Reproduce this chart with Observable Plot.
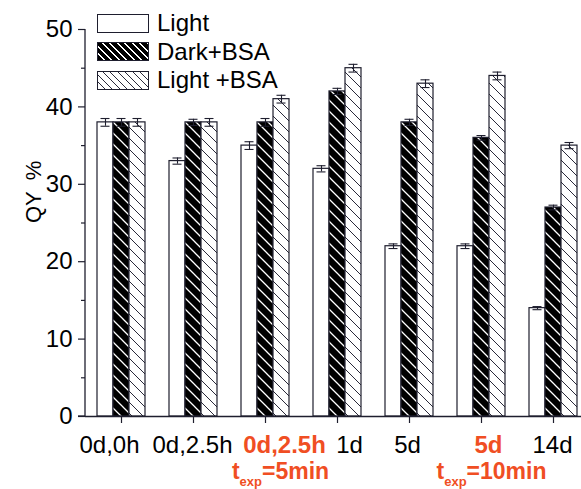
<!DOCTYPE html>
<html><head><meta charset="utf-8">
<script src="https://cdn.jsdelivr.net/npm/d3@7"></script>
<script src="https://cdn.jsdelivr.net/npm/@observablehq/plot@0.6"></script>
<style>
body{margin:0;background:#fff;}
#wrap{position:relative;width:581px;height:489px;overflow:hidden;font-family:"Liberation Sans",Arial,sans-serif;background:#fff;}
#legend{position:absolute;left:97px;top:9px;}
.row{display:flex;align-items:center;height:28.5px;font-size:24px;color:#000;white-space:pre;}
.sw{width:50px;height:17px;border:1.6px solid #1e1e2e;margin-right:8px;}
</style></head><body><div id="wrap"><div id="legend"></div></div>
<script>
// ---- data ----
const categories = ["c1","c2","c3","c4","c5","c6","c7"];
const tickLabels = ["0d,0h","0d,2.5h","0d,2.5h","1d","5d","5d","14d"];
const highlighted = [false,false,true,false,false,true,false];
const subLabels = ["","","=5min","","","=10min",""];
const series = ["Light","Dark+BSA","Light +BSA"];
const light    = [38,33,35,32,22,22,14];
const darkBSA  = [38,38,38,42,38,36,27];
const lightBSA = [38,38,41,45,43,44,35];
const errLight    = [0.5,0.4,0.5,0.4,0.3,0.3,0.2];
const errDarkBSA  = [0.5,0.4,0.5,0.4,0.4,0.3,0.3];
const errLightBSA = [0.5,0.5,0.5,0.5,0.5,0.5,0.4];
const yTicks = [0,10,20,30,40,50];
const yMinor = [5,15,25,35,45];

// ---- build table ----
const values = [light, darkBSA, lightBSA];
const errors = [errLight, errDarkBSA, errLightBSA];
const rows = [];
categories.forEach((k,i)=>series.forEach((s,j)=>rows.push({k, s, v: values[j][i], e: errors[j][i]})));
const tickRows = categories.map((k,i)=>({k, label: tickLabels[i], sub: subLabels[i], hi: highlighted[i]}));

// ---- style ----
const ink = "#1e1e2e";
const red = "#f04e23";
const labelShift = [-12,-1,19,12,-2,7,-1];
const subShift = [0,0,15,0,0,10,0];

const labelMarks = tickRows.map((r,i)=>Plot.text([r], {
  fx: "k", text: "label", frameAnchor: "bottom", lineAnchor: "top", dy: 19, dx: labelShift[i],
  fontSize: 24, fill: r.hi ? red : "#000", fontWeight: r.hi ? "bold" : "normal"
}));
const subMarks = tickRows.filter(r=>r.hi).map(r=>Plot.text([r], {
  fx: "k", text: d => "t|exp|" + d.sub, frameAnchor: "bottom", lineAnchor: "bottom", dy: 62,
  dx: subShift[categories.indexOf(r.k)], fontSize: 23, fill: red, fontWeight: "bold"
}));

const svg = Plot.plot({
  width: 581, height: 489,
  marginTop: 29, marginBottom: 73, marginLeft: 83, marginRight: 0,
  style: {fontFamily: "'Liberation Sans', Arial, sans-serif", background: "white", color: "#000"},
  fx: {domain: categories, range: [83, 591], padding: 0, axis: null, label: null},
  x: {domain: series, paddingInner: 0, paddingOuter: 0.635, axis: null, label: null},
  y: {domain: [0, 50], axis: null},
  color: {domain: series, range: ["white", "url(#hatchDark)", "url(#hatchLight)"]},
  marks: [
    Plot.barY(rows, {fx: "k", x: "s", y: "v", fill: "s", stroke: ink, strokeWidth: 1.2}),
    Plot.ruleX(rows, {fx: "k", x: "s", y1: d => d.v - d.e, y2: d => d.v + d.e, stroke: ink, strokeWidth: 1.1}),
    Plot.tickY(rows, {fx: "k", x: "s", y: d => d.v + d.e, inset: 3.5, stroke: ink, strokeWidth: 1.1}),
    Plot.tickY(rows, {fx: "k", x: "s", y: d => d.v - d.e, inset: 3.5, stroke: ink, strokeWidth: 1.1}),
    Plot.ruleY([0], {stroke: ink, strokeWidth: 1.3}),
    Plot.axisY({ticks: yTicks, tickSize: 7, tickPadding: 6, fontSize: 24, label: null, stroke: ink, strokeWidth: 1.2}),
    Plot.axisY({ticks: yMinor, tickSize: 4, tickFormat: () => "", label: null, stroke: ink, strokeWidth: 1.2}),
    Plot.axisFx({anchor: "bottom", tickSize: 7, tickFormat: () => "", label: null, stroke: ink, strokeWidth: 1.2}),
    Plot.text([{k: categories[0], t: "QY\u2002%"}], {fx: "k", text: "t", frameAnchor: "left", rotate: -90, dx: -52, fontSize: 22}),
    ...labelMarks,
    ...subMarks
  ]
});

// patterns
d3.select(svg).insert("defs", ":first-child").html(`
<pattern id="hatchDark" patternUnits="userSpaceOnUse" width="11" height="11">
  <rect width="11" height="11" fill="#000"/>
  <path d="M-2,-2L13,13M-2,9L2,13M9,-2L13,2" stroke="#fff" stroke-width="1.3"/>
</pattern>
<pattern id="hatchLight" patternUnits="userSpaceOnUse" width="11" height="11">
  <rect width="11" height="11" fill="#fff"/>
  <path d="M-2,-2L13,13M-2,9L2,13M9,-2L13,2" stroke="#2a2a3a" stroke-width="1"/>
</pattern>`);

// y axis line from the library's scales
const fxs = svg.scale("fx"), ys = svg.scale("y");
d3.select(svg).append("line")
  .attr("x1", fxs.apply(categories[0])).attr("x2", fxs.apply(categories[0]))
  .attr("y1", ys.apply(0)).attr("y2", ys.apply(50))
  .attr("stroke", ink).attr("stroke-width", 1.3);
// baseline extends slightly left of the y axis like the original
d3.select(svg).append("line")
  .attr("x1", fxs.apply(categories[0]) - 7).attr("x2", fxs.apply(categories[0]))
  .attr("y1", ys.apply(0)).attr("y2", ys.apply(0))
  .attr("stroke", ink).attr("stroke-width", 1.3);

// subscripts
d3.select(svg).selectAll("text").filter(function(){ return this.textContent.indexOf("|") >= 0; }).each(function(){
  const parts = this.textContent.split("|");
  const t = d3.select(this); t.text(null);
  t.append("tspan").text(parts[0]);
  t.append("tspan").attr("dy", 7).attr("font-size", 13).text(parts[1]);
  t.append("tspan").attr("dy", -7).text(parts[2]);
});

document.getElementById("wrap").prepend(svg);

// legend
const swatch = [
  "#fff",
  "repeating-linear-gradient(45deg, #000 0 3.8px, #fff 3.8px 5.3px)",
  "repeating-linear-gradient(45deg, #fff 0 4.3px, #2a2a3a 4.3px 5.3px)"
];
const lg = d3.select("#legend");
series.forEach((s,j)=>{
  const row = lg.append("div").attr("class","row");
  row.append("div").attr("class","sw").style("background", swatch[j]);
  row.append("span").text(s);
});
</script></body></html>
